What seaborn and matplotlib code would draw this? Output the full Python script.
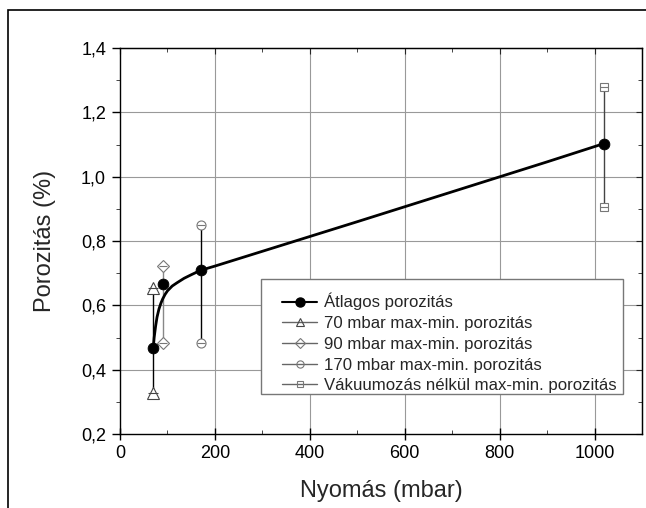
import matplotlib.pyplot as plt
from matplotlib.lines import Line2D
from matplotlib.patches import Rectangle
from matplotlib.ticker import MultipleLocator, FuncFormatter
import seaborn as sns
import pandas as pd

# measured points
pressure = [70, 90, 170, 1020]
avg_por = [0.466, 0.666, 0.709, 1.103]
max_por = [0.653, 0.722, 0.850, 1.280]
min_por = [0.328, 0.484, 0.484, 0.905]

# fitted curve
curve_x = [70, 72, 75, 78, 82, 86, 90, 95, 100, 110, 120, 135, 150, 170,
           200, 300, 500, 700, 900, 1020]
curve_y = [0.466, 0.500, 0.535, 0.563, 0.588, 0.606, 0.620, 0.634, 0.645,
           0.660, 0.670, 0.684, 0.695, 0.709, 0.722, 0.768, 0.860, 0.953,
           1.046, 1.103]

labels = ['Átlagos porozitás',
          '70 mbar max-min. porozitás',
          '90 mbar max-min. porozitás',
          '170 mbar max-min. porozitás',
          'Vákuumozás nélkül max-min. porozitás']
markers = ['^', 'D', 'o', 's']
msizes = [8, 6.5, 6.5, 6]
mcolors = ['#444444', '#777777', '#777777', '#777777']
bar_colors = ['black', '#888888', 'black', '#444444']

sns.set_style('ticks')
plt.rcParams['font.family'] = ['Liberation Sans', 'DejaVu Sans']

fig = plt.figure(figsize=(6.46, 5.08), dpi=100)
ax = fig.add_axes([120 / 646, 74 / 508, 522 / 646, 386 / 508])

# grid
for gx in [200, 400, 600, 800, 1000]:
    ax.axvline(gx, color='#999999', lw=0.8, zorder=0)
for gy in [0.4, 0.6, 0.8, 1.0, 1.2]:
    ax.axhline(gy, color='#999999', lw=0.8, zorder=0)

# max-min bars
ax.vlines(pressure, min_por, max_por, colors=bar_colors, lw=1.0, zorder=2)

# max-min markers
for i in range(4):
    pts = [pressure[i], pressure[i]]
    vals = [max_por[i], min_por[i]]
    ax.plot(pts, vals, ls='none', marker=markers[i], ms=msizes[i],
            mfc='white', mec=mcolors[i], mew=0.8, zorder=3)
    ax.plot(pts, vals, ls='none', marker='_', ms=msizes[i] * 0.9,
            mec=mcolors[i], mew=0.8, zorder=4)

# average curve
curve = pd.DataFrame({'x': curve_x, 'y': curve_y})
sns.lineplot(data=curve, x='x', y='y', ax=ax, color='black', lw=2.0,
             sort=False, estimator=None, zorder=5)
pts_df = pd.DataFrame({'x': pressure, 'y': avg_por})
sns.scatterplot(data=pts_df, x='x', y='y', ax=ax, color='black', s=60,
                edgecolor='black', zorder=6)

ax.set_xlim(0, 1100)
ax.set_ylim(0.2, 1.4)
ax.xaxis.set_major_locator(MultipleLocator(200))
ax.xaxis.set_minor_locator(MultipleLocator(100))
ax.yaxis.set_major_locator(MultipleLocator(0.2))
ax.yaxis.set_minor_locator(MultipleLocator(0.1))
ax.yaxis.set_major_formatter(FuncFormatter(lambda v, p: f'{v:.1f}'.replace('.', ',')))
ax.tick_params(axis='both', which='major', labelsize=13, width=1,
               color='black', labelcolor='black')
ax.tick_params(axis='x', which='major', direction='inout', length=8, pad=4)
ax.tick_params(axis='x', which='minor', direction='in', length=3)
ax.tick_params(axis='y', which='major', direction='out', length=6, pad=4)
ax.tick_params(axis='y', which='minor', direction='out', length=3)
for sp in ax.spines.values():
    sp.set_visible(True)
    sp.set_color('black')
    sp.set_linewidth(1.0)

# inward ticks on top and right
top = ax.secondary_xaxis('top')
top.xaxis.set_major_locator(MultipleLocator(200))
top.xaxis.set_minor_locator(MultipleLocator(100))
top.tick_params(which='both', direction='in', labeltop=False, length=4)
top.tick_params(which='minor', length=3)
right = ax.secondary_yaxis('right')
right.yaxis.set_major_locator(MultipleLocator(0.2))
right.yaxis.set_minor_locator(MultipleLocator(0.1))
right.tick_params(which='both', direction='in', labelright=False, length=4)
right.tick_params(which='minor', length=3)

ax.set_xlabel('Nyomás (mbar)', fontsize=17, labelpad=13)
ax.set_ylabel('Porozitás (%)', fontsize=17, labelpad=18)

# legend box drawn separately (asymmetric padding as in the original)
box = Rectangle((261 / 646, 1 - 394 / 508), 362 / 646, 115 / 508,
                transform=fig.transFigure, facecolor='white',
                edgecolor='#777777', lw=1.0, zorder=9, clip_on=False)
ax.add_patch(box)

handles = [Line2D([], [], color='black', lw=1.5, marker='o', ms=6.5)]
for i in range(4):
    handles.append(Line2D([], [], color='#666666', lw=1.0, marker=markers[i],
                          ms=msizes[i] * 0.8, mfc='none', mec=mcolors[i], mew=0.8))
leg = ax.legend(handles, labels, loc='upper left',
                bbox_to_anchor=(282 / 646, 1 - 293 / 508),
                bbox_transform=fig.transFigure, fontsize=12.1, frameon=False,
                handlelength=2.1, handletextpad=0.4,
                labelspacing=0.34, borderpad=0, borderaxespad=0)
leg.set_zorder(10)

# outer frame
fig.add_artist(Rectangle((8 / 646, -0.5), 2, 0.5 + 1 - 10 / 508,
                         transform=fig.transFigure, fill=False,
                         edgecolor='black', lw=1.2))

fig.savefig('out.png', dpi=100)
